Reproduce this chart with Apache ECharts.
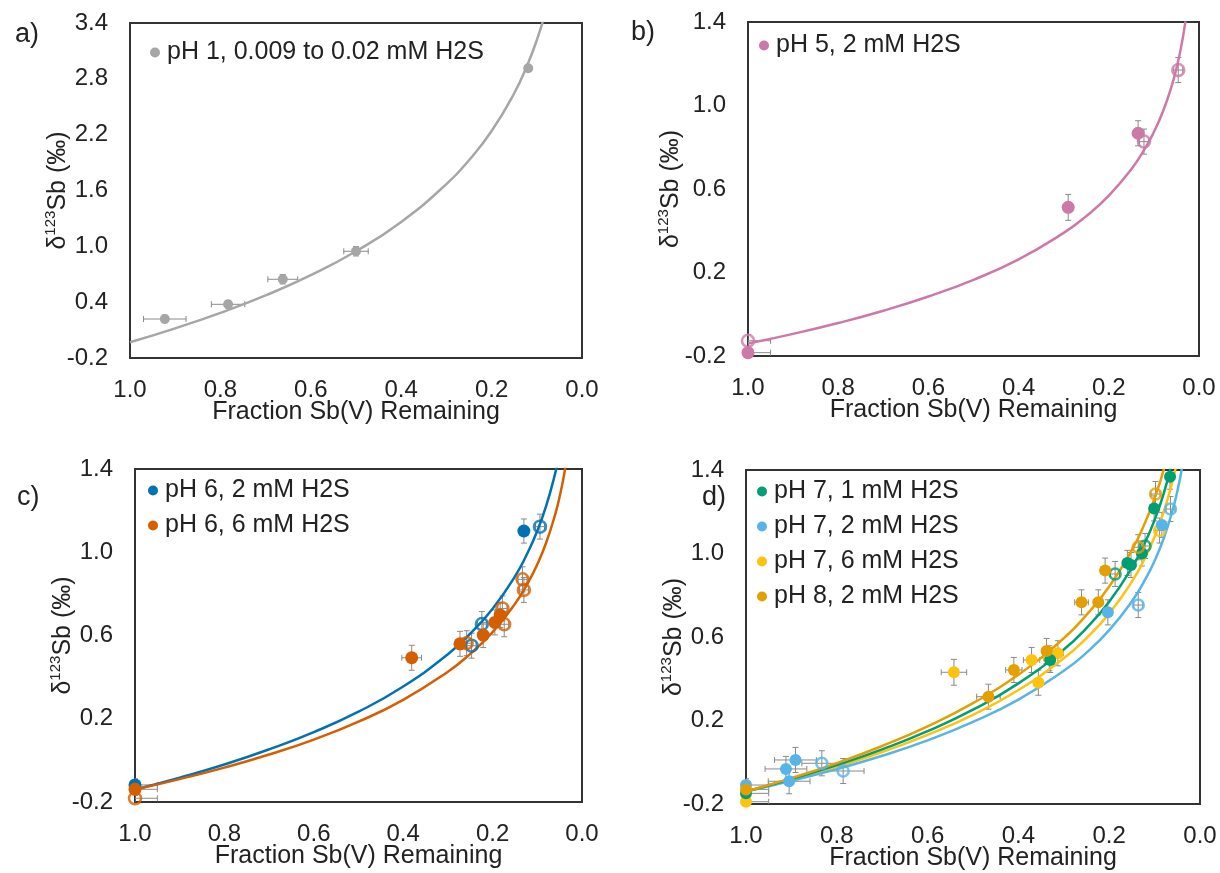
<!DOCTYPE html>
<html>
<head>
<meta charset="utf-8">
<script src="https://cdn.jsdelivr.net/npm/echarts@6/dist/echarts.min.js"></script>
<style>
html, body { margin: 0; padding: 0; background: #fff; }
#main { width: 1220px; height: 873px; }
</style>
</head>
<body>
<div id="main"></div>
<script>
// tick labels
var xTicks = [1.0, 0.8, 0.6, 0.4, 0.2, 0.0];
var yTicksA = [-0.2, 0.4, 1.0, 1.6, 2.2, 2.8, 3.4];
var yTicksB = [-0.2, 0.2, 0.6, 1.0, 1.4];

// points: [fraction remaining, d123Sb, x error, y error]
var aFilled = [[0.923, 0.219, 0.047, 0.04], [0.783, 0.377, 0.037, 0.04], [0.662, 0.646, 0.033, 0.05], [0.500, 0.947, 0.027, 0.05], [0.119, 2.913, 0.006, 0.03]];

var bFilled = [[1.0, -0.184, 0.05, 0.02], [0.290, 0.512, 0.01, 0.062], [0.135, 0.867, 0.01, 0.06]];
var bOpen = [[1.0, -0.127, 0.05, 0.03], [0.122, 0.827, 0.01, 0.06], [0.046, 1.170, 0.01, 0.06]];

var c2Filled = [[1.0, -0.118, 0.05, 0.03], [0.130, 1.102, 0.01, 0.058]];
var c2Open = [[0.094, 1.123, 0.01, 0.06], [0.224, 0.655, 0.01, 0.06], [0.247, 0.551, 0.01, 0.06]];
var c6Filled = [[1.0, -0.139, 0.05, 0.03], [0.381, 0.493, 0.022, 0.06], [0.273, 0.560, 0.01, 0.06], [0.221, 0.602, 0.01, 0.06], [0.195, 0.663, 0.01, 0.06], [0.183, 0.698, 0.01, 0.06]];
var c6Open = [[1.0, -0.182, 0.05, 0.03], [0.258, 0.563, 0.01, 0.06], [0.178, 0.730, 0.01, 0.06], [0.174, 0.654, 0.01, 0.06], [0.133, 0.870, 0.01, 0.06], [0.130, 0.819, 0.01, 0.06]];

var d71Filled = [[1.0, -0.149, 0.05, 0.03], [0.066, 1.368, 0.01, 0.06], [0.101, 1.216, 0.01, 0.06], [0.160, 0.955, 0.01, 0.06], [0.152, 0.945, 0.01, 0.06], [0.128, 1.000, 0.01, 0.06], [0.330, 0.490, 0.01, 0.06]];
var d71Open = [[0.187, 0.902, 0.01, 0.06], [0.121, 1.036, 0.01, 0.06]];
var d72Filled = [[1.0, -0.109, 0.05, 0.03], [0.084, 1.137, 0.01, 0.06], [0.203, 0.718, 0.01, 0.06], [0.891, 0.011, 0.046, 0.06], [0.912, -0.032, 0.046, 0.06], [0.905, -0.091, 0.046, 0.06]];
var d72Open = [[0.065, 1.213, 0.01, 0.06], [0.136, 0.753, 0.01, 0.06], [0.786, -0.042, 0.046, 0.06], [0.833, -0.005, 0.044, 0.06]];
var d76Filled = [[1.0, -0.189, 0.05, 0.03], [0.542, 0.431, 0.028, 0.062], [0.371, 0.490, 0.018, 0.06], [0.332, 0.498, 0.012, 0.06], [0.313, 0.522, 0.012, 0.06], [0.356, 0.381, 0.01, 0.06]];
var d76Open = [[0.089, 1.110, 0.01, 0.06]];
var d82Filled = [[1.0, -0.130, 0.05, 0.03], [0.209, 0.918, 0.01, 0.06], [0.261, 0.766, 0.015, 0.06], [0.224, 0.766, 0.01, 0.06], [0.338, 0.533, 0.01, 0.06], [0.410, 0.442, 0.018, 0.06], [0.466, 0.314, 0.026, 0.06]];
var d82Open = [[0.098, 1.285, 0.01, 0.06], [0.136, 1.030, 0.01, 0.06]];

// fitted curves at these fractions
var curveF = [1.0, 0.9, 0.8, 0.7, 0.6, 0.5, 0.4, 0.3, 0.25, 0.2, 0.15, 0.12, 0.1, 0.08, 0.06, 0.05, 0.04, 0.03];
var curveA = [-0.03, 0.119, 0.285, 0.473, 0.690, 0.947, 1.262, 1.668, 1.925, 2.239, 2.645, 2.960, 3.217, 3.531, 3.937, 4.194, 4.509, 4.914];
var curveB = [-0.14, -0.094, -0.042, 0.017, 0.085, 0.165, 0.263, 0.390, 0.470, 0.568, 0.695, 0.793, 0.873, 0.971, 1.098, 1.178, 1.276, 1.403];
var curveC2 = [-0.14, -0.083, -0.020, 0.053, 0.136, 0.234, 0.355, 0.510, 0.609, 0.729, 0.884, 1.005, 1.103, 1.224, 1.379, 1.478, 1.598, 1.754];
var curveC6 = [-0.14, -0.090, -0.035, 0.028, 0.100, 0.186, 0.291, 0.426, 0.512, 0.616, 0.752, 0.857, 0.942, 1.047, 1.182, 1.268, 1.373, 1.508];
var curveD82 = [-0.14, -0.076, -0.004, 0.078, 0.172, 0.283, 0.419, 0.594, 0.706, 0.842, 1.017, 1.153, 1.265, 1.401, 1.576, 1.687, 1.824, 1.999];
var curveD71 = [-0.14, -0.080, -0.014, 0.062, 0.149, 0.252, 0.378, 0.540, 0.643, 0.769, 0.932, 1.058, 1.161, 1.287, 1.450, 1.553, 1.679, 1.841];
var curveD76 = [-0.14, -0.084, -0.022, 0.049, 0.131, 0.227, 0.346, 0.498, 0.595, 0.713, 0.865, 0.984, 1.080, 1.199, 1.351, 1.448, 1.566, 1.718];
var curveD72 = [-0.14, -0.089, -0.033, 0.031, 0.105, 0.193, 0.300, 0.438, 0.525, 0.633, 0.771, 0.878, 0.965, 1.072, 1.210, 1.298, 1.405, 1.543];

var FONT = '"Liberation Sans", Arial, sans-serif';
var TXT = '#222';

var grids = [
    {left: 130, top: 23, width: 452, height: 335},
    {left: 748, top: 22, width: 451, height: 334},
    {left: 135, top: 469, width: 447, height: 333},
    {left: 746, top: 470, width: 454, height: 334}
];
// y title gap from the axis line
var yCfg = [
    {min: -0.2, max: 3.4, ticks: yTicksA, gap: 57},
    {min: -0.2, max: 1.4, ticks: yTicksB, gap: 62},
    {min: -0.2, max: 1.4, ticks: yTicksB, gap: 57},
    {min: -0.2, max: 1.4, ticks: yTicksB, gap: 57}
];

var xAxes = [], yAxes = [];
grids.forEach(function (g, i) {
    g.show = true;
    g.borderColor = '#333';
    g.borderWidth = 2;
    g.containLabel = false;
    xAxes.push({
        gridIndex: i, type: 'value', min: 0, max: 1, interval: 0.2, inverse: true,
        axisLine: {show: false}, axisTick: {show: false}, splitLine: {show: false},
        axisLabel: {customValues: xTicks, margin: 20, fontSize: 24, fontFamily: FONT, color: TXT,
            formatter: function (v) { return v.toFixed(1); }},
        name: 'Fraction Sb(V) Remaining', nameLocation: 'middle', nameGap: 42, nameMoveOverlap: false,
        nameTextStyle: {fontSize: 25, fontFamily: FONT, color: TXT}
    });
    yAxes.push({
        gridIndex: i, type: 'value', min: yCfg[i].min, max: yCfg[i].max,
        axisLine: {show: false}, axisTick: {show: false}, splitLine: {show: false},
        axisLabel: {customValues: yCfg[i].ticks, margin: 22, fontSize: 24, fontFamily: FONT, color: TXT,
            formatter: function (v) { return v.toFixed(1); }},
        name: '{a|δ}{b|123}{a|Sb (‰)}', nameLocation: 'middle', nameGap: yCfg[i].gap, nameMoveOverlap: false,
        nameTextStyle: {fontSize: 25, fontFamily: FONT, color: TXT,
            rich: {
                a: {fontSize: 25, fontFamily: FONT, color: TXT, lineHeight: 30},
                b: {fontSize: 15, fontFamily: FONT, color: TXT, lineHeight: 30, verticalAlign: 'top'}
            }}
    });
});

var series = [];

function errBars(data, gi) {
    return {
        type: 'custom', xAxisIndex: gi, yAxisIndex: gi, data: data, clip: true, z: 1, silent: true,
        renderItem: function (params, api) {
            var x = api.value(0), y = api.value(1), ex = api.value(2), ey = api.value(3);
            var st = {stroke: '#8a8a8a', lineWidth: 1};
            var kids = [];
            var cap = 3;
            if (ey > 0) {
                var p1 = api.coord([x, y - ey]), p2 = api.coord([x, y + ey]);
                kids.push({type: 'line', shape: {x1: p1[0], y1: p1[1], x2: p2[0], y2: p2[1]}, style: st});
                kids.push({type: 'line', shape: {x1: p1[0] - cap, y1: p1[1], x2: p1[0] + cap, y2: p1[1]}, style: st});
                kids.push({type: 'line', shape: {x1: p2[0] - cap, y1: p2[1], x2: p2[0] + cap, y2: p2[1]}, style: st});
            }
            if (ex > 0) {
                var q1 = api.coord([x - ex, y]), q2 = api.coord([x + ex, y]);
                kids.push({type: 'line', shape: {x1: q1[0], y1: q1[1], x2: q2[0], y2: q2[1]}, style: st});
                kids.push({type: 'line', shape: {x1: q1[0], y1: q1[1] - cap, x2: q1[0], y2: q1[1] + cap}, style: st});
                kids.push({type: 'line', shape: {x1: q2[0], y1: q2[1] - cap, x2: q2[0], y2: q2[1] + cap}, style: st});
            }
            return {type: 'group', children: kids};
        }
    };
}

function addSet(gi, name, color, filled, open, curve, size) {
    size = size || 12;
    series.push({
        type: 'line', name: name + ' fit', xAxisIndex: gi, yAxisIndex: gi, z: 2, silent: true,
        data: curveF.map(function (f, k) { return [f, curve[k]]; }),
        smooth: true, symbol: 'none', clip: true,
        lineStyle: {color: color, width: 2.5}
    });
    series.push(errBars(filled.concat(open), gi));
    series.push({
        type: 'scatter', name: name, xAxisIndex: gi, yAxisIndex: gi, z: 3, silent: true,
        data: filled.map(function (d) { return [d[0], d[1]]; }),
        symbol: 'circle', symbolSize: size, itemStyle: {color: color, opacity: 1}
    });
    if (open.length) {
        series.push({
            type: 'scatter', name: name + ' open', xAxisIndex: gi, yAxisIndex: gi, z: 3, silent: true,
            data: open.map(function (d) { return [d[0], d[1]]; }),
            symbol: 'circle', symbolSize: size - 1,
            itemStyle: {color: 'rgba(255,255,255,0)', borderColor: color, borderWidth: 2.5}
        });
    }
}

var GREY = '#a6a6a6', PINK = '#cc79a7', BLUE = '#0072b2', VERM = '#d55e00',
    GREEN = '#009e73', SKY = '#56b4e9', GOLD = '#ffc20e', ORANGE = '#e69f00';

addSet(0, 'pH 1, 0.009 to 0.02 mM H2S', GREY, aFilled, [], curveA, 10);
addSet(1, 'pH 5, 2 mM H2S', PINK, bFilled, bOpen, curveB, 13);
addSet(2, 'pH 6, 2 mM H2S', BLUE, c2Filled, c2Open, curveC2, 13);
addSet(2, 'pH 6, 6 mM H2S', VERM, c6Filled, c6Open, curveC6, 13);
addSet(3, 'pH 7, 6 mM H2S', GOLD, d76Filled, d76Open, curveD76, 12);
addSet(3, 'pH 7, 2 mM H2S', SKY, d72Filled, d72Open, curveD72, 12);
addSet(3, 'pH 7, 1 mM H2S', GREEN, d71Filled, d71Open, curveD71, 12);
addSet(3, 'pH 8, 2 mM H2S', ORANGE, d82Filled, d82Open, curveD82, 12);

function leg(names, left, top) {
    return {
        data: names, left: left, top: top, orient: 'vertical', padding: 0, itemGap: 10,
        icon: 'circle', itemWidth: 10, itemHeight: 10, selectedMode: false,
        textStyle: {fontSize: 25, fontFamily: FONT, color: TXT, padding: [0, 0, 0, 2]}
    };
}

function panelLabel(t, x, y) {
    return {type: 'text', left: x, top: y, style: {text: t, fontSize: 27, fontFamily: FONT, fill: TXT}};
}

var myChart = echarts.init(document.getElementById('main'));
myChart.setOption({
    animation: false,
    backgroundColor: '#fff',
    grid: grids,
    xAxis: xAxes,
    yAxis: yAxes,
    legend: [
        leg(['pH 1, 0.009 to 0.02 mM H2S'], 150, 40),
        leg(['pH 5, 2 mM H2S'], 759, 33),
        leg(['pH 6, 2 mM H2S', 'pH 6, 6 mM H2S'], 148, 478),
        leg(['pH 7, 1 mM H2S', 'pH 7, 2 mM H2S', 'pH 7, 6 mM H2S', 'pH 8, 2 mM H2S'], 757, 479)
    ],
    graphic: [
        panelLabel('a)', 15, 21),
        panelLabel('b)', 631, 19),
        panelLabel('c)', 17, 484),
        panelLabel('d)', 702, 484)
    ],
    series: series
});
</script>
</body>
</html>
